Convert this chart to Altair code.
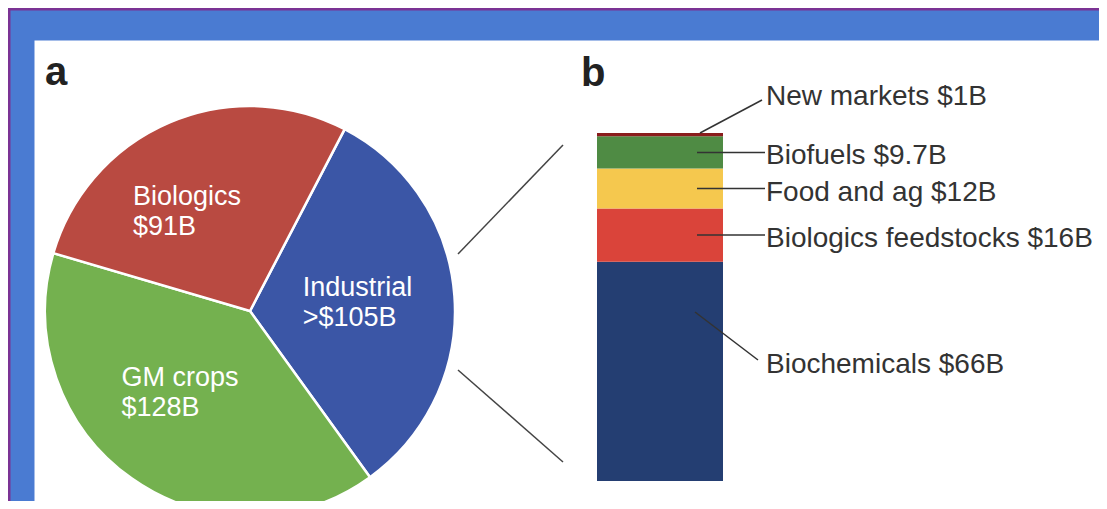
import math
import altair as alt
import pandas as pd

# ---------------- data ----------------
# Panel a: pie (drawn clockwise starting with Industrial)
pie_categories = ["Industrial", "GM crops", "Biologics"]
pie_texts = ["Industrial\n>$105B", "GM crops\n$128B", "Biologics\n$91B"]
pie_values = [105, 128, 91]
pie_colors = ["#3b56a6", "#74b14f", "#b94a41"]

# Panel b: stacked bar (bottom to top)
bar_categories = ["Biochemicals", "Biologics feedstocks", "Food and ag", "Biofuels", "New markets"]
bar_texts = ["Biochemicals $66B", "Biologics feedstocks $16B", "Food and ag $12B",
             "Biofuels $9.7B", "New markets $1B"]
bar_values = [66, 16, 12, 9.7, 1]
bar_colors = ["#243e72", "#da443a", "#f5c84e", "#4f8b44", "#8a1c1c"]

# ---------------- layout (pixels, view coordinates) ----------------
W, H = 1065, 461
CX, CY, R = 216, 271, 205
START = math.radians(27.5)
BAR_X0, BAR_X1 = 563, 689
BAR_TOP, BAR_BOT = 93, 441
LBL_X = 732
FONT = "Liberation Sans"
TXT = "#333333"

pie_df = pd.DataFrame({
    "category": pie_categories,
    "text": pie_texts,
    "value": pie_values,
    "order": list(range(len(pie_values))),
})
bar_df = pd.DataFrame({
    "category": bar_categories,
    "text": bar_texts,
    "value": bar_values,
    "order": list(range(len(bar_values))),
})
one = pd.DataFrame({"k": [0]})

theta_scale = alt.Scale(domain=[0, sum(pie_values)], range=[START, START + 2 * math.pi])
pie_color = alt.Scale(domain=pie_categories, range=pie_colors)
bar_color = alt.Scale(domain=bar_categories, range=bar_colors)
y_scale = alt.Scale(domain=[0, sum(bar_values)], range=[BAR_BOT, BAR_TOP])

# ---- pie ----
arcs = alt.Chart(pie_df).mark_arc(
    outerRadius=R, stroke="white", strokeWidth=2.5, x=CX, y=CY
).encode(
    theta=alt.Theta("value:Q", stack=True, scale=theta_scale),
    color=alt.Color("category:N", scale=pie_color, legend=None),
    order=alt.Order("order:Q"),
)

pie_base = alt.Chart(pie_df).transform_window(
    cum="sum(value)", sort=[alt.SortField("order")], frame=[None, 0]
).transform_calculate(mid="datum.cum - datum.value / 2")


def pie_label(cat, r, dx, dy):
    return pie_base.transform_filter(alt.datum.category == cat).mark_text(
        radius=r, x=CX, y=CY, dx=dx, dy=dy, align="left", baseline="middle",
        lineBreak="\n", lineHeight=30, fontSize=27, font=FONT, color="white",
    ).encode(
        theta=alt.Theta("mid:Q", scale=theta_scale),
        text="text:N",
    )


pie_labels = [
    pie_label("Industrial", 112, -59, -15),
    pie_label("Biologics", 110, -74, -13),
    pie_label("GM crops", 110, -65, -23),
]

# ---- stacked bar ----
bar_base = alt.Chart(bar_df).transform_window(
    y1="sum(value)", sort=[alt.SortField("order")], frame=[None, 0]
).transform_calculate(
    y0="datum.y1 - datum.value", mid="datum.y1 - datum.value / 2"
)

bars = bar_base.mark_rect().encode(
    x=alt.value(BAR_X0), x2=alt.value(BAR_X1),
    y=alt.Y("y0:Q", scale=y_scale, axis=None), y2="y1:Q",
    color=alt.Color("category:N", scale=bar_color, legend=None),
)

mid_cats = ["Biologics feedstocks", "Food and ag", "Biofuels"]


def bar_label(cats, dy):
    return bar_base.transform_filter(
        alt.FieldOneOfPredicate(field="category", oneOf=cats)
    ).mark_text(
        align="left", baseline="middle", dy=dy, fontSize=28, font=FONT, color=TXT
    ).encode(
        x=alt.value(LBL_X), y=alt.Y("mid:Q", scale=y_scale, axis=None), text="text:N"
    )


bar_labels = [
    bar_label(mid_cats, 4),
    bar_label(["New markets"], -38),
    bar_label(["Biochemicals"], -6),
]

leaders_h = bar_base.transform_filter(
    alt.FieldOneOfPredicate(field="category", oneOf=mid_cats)
).mark_rule(color=TXT, strokeWidth=1.5).encode(
    x=alt.value(663), x2=alt.value(731), y=alt.Y("mid:Q", scale=y_scale, axis=None)
)
leader_new = bar_base.transform_filter(alt.datum.category == "New markets").mark_rule(
    color=TXT, strokeWidth=1.5
).encode(
    x=alt.value(666), x2=alt.value(728),
    y=alt.Y("y1:Q", scale=y_scale, axis=None), y2=alt.value(60),
)
leader_bio = alt.Chart(one).mark_rule(color=TXT, strokeWidth=1.5).encode(
    x=alt.value(661), x2=alt.value(724), y=alt.value(272), y2=alt.value(320)
)

# ---- zoom lines between panels ----
zoom_up = alt.Chart(one).mark_rule(color="#444444", strokeWidth=1.5).encode(
    x=alt.value(424), x2=alt.value(529), y=alt.value(214), y2=alt.value(105)
)
zoom_dn = alt.Chart(one).mark_rule(color="#444444", strokeWidth=1.5).encode(
    x=alt.value(424), x2=alt.value(529), y=alt.value(330), y2=alt.value(422)
)

# ---- panel letters ----
letter_a = alt.Chart(one).mark_text(
    align="left", baseline="alphabetic", fontSize=40, fontWeight="bold", font=FONT, color="#222222"
).encode(x=alt.value(11), y=alt.value(45), text=alt.value("a"))
letter_b = alt.Chart(one).mark_text(
    align="left", baseline="alphabetic", fontSize=40, fontWeight="bold", font=FONT, color="#222222"
).encode(x=alt.value(547), y=alt.value(46), text=alt.value("b"))

# ---- frame edge ----
frame_l = alt.Chart(one).mark_rule(color="#7b3294", strokeWidth=3).encode(
    x=alt.value(-25), y=alt.value(-32), y2=alt.value(H)
)
frame_t = alt.Chart(one).mark_rule(color="#7b3294", strokeWidth=3).encode(
    x=alt.value(-26), x2=alt.value(W), y=alt.value(-31)
)

chart = alt.layer(
    arcs, *pie_labels, bars, leaders_h, leader_new, leader_bio, *bar_labels,
    zoom_up, zoom_dn, letter_a, letter_b, frame_l, frame_t,
).resolve_scale(color="independent").properties(
    width=W, height=H,
    padding={"left": 26, "top": 32, "right": 0, "bottom": 0},
    autosize=alt.AutoSizeParams(type="none"),
    background="#4a7bd2",
).configure_view(fill="white", stroke="transparent")

chart.save("out.html", embed_options={"renderer": "svg", "actions": False})
